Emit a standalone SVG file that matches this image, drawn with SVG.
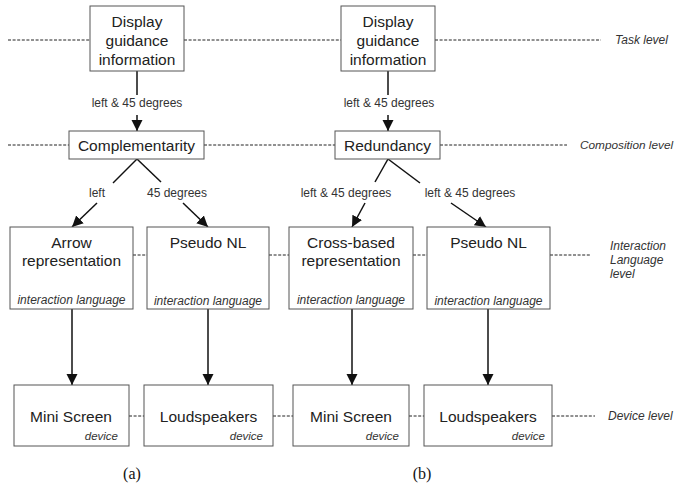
<svg xmlns="http://www.w3.org/2000/svg" width="674" height="488" viewBox="0 0 674 488">
  <style>
    .box { fill: #fff; stroke: #555; stroke-width: 1; }
    .t { font-family: "Liberation Sans", Arial, sans-serif; font-size: 15.5px; fill: #222; text-anchor: middle; }
    .lbl { font-family: "Liberation Sans", Arial, sans-serif; font-size: 12px; fill: #333; text-anchor: middle; }
    .it { font-family: "Liberation Sans", Arial, sans-serif; font-size: 12px; font-style: italic; fill: #333; text-anchor: middle; }
    .dev { font-family: "Liberation Sans", Arial, sans-serif; font-size: 11.5px; font-style: italic; fill: #333; text-anchor: end; }
    .lvl { font-family: "Liberation Sans", Arial, sans-serif; font-size: 12px; font-style: italic; fill: #333; }
    .cap { font-family: "Liberation Serif", "Times New Roman", serif; font-size: 16px; fill: #111; text-anchor: middle; }
    .dash { stroke: #222; stroke-width: 1; stroke-dasharray: 3 1.6; fill: none; }
    .edge { stroke: #111; stroke-width: 1.5; fill: none; }
  </style>
  <defs>
    <marker id="arrL" markerWidth="12" markerHeight="12" refX="11" refY="6" orient="auto" markerUnits="userSpaceOnUse" viewBox="0 0 12 12">
      <path d="M0,0.5 L11,6 L0,11.5 Z" fill="#111"/>
    </marker>
  </defs>

  <!-- level guide lines -->
  <g id="levels">
    <line class="dash" x1="8" y1="40" x2="90" y2="40"/>
    <line class="dash" x1="184" y1="40" x2="341" y2="40"/>
    <line class="dash" x1="435" y1="40" x2="601" y2="40"/>
    <text class="lvl" x="615" y="44">Task level</text>

    <line class="dash" x1="8" y1="145" x2="69" y2="145"/>
    <line class="dash" x1="204" y1="145" x2="335" y2="145"/>
    <line class="dash" x1="440" y1="145" x2="567" y2="145"/>
    <text class="lvl" x="580" y="149" style="font-size:11.8px">Composition level</text>

    <line class="dash" x1="133" y1="255" x2="147" y2="255"/>
    <line class="dash" x1="269" y1="255" x2="289" y2="255"/>
    <line class="dash" x1="413" y1="255" x2="427" y2="255"/>
    <line class="dash" x1="550" y1="255" x2="590" y2="255"/>
    <text class="lvl" x="610" y="250">Interaction</text>
    <text class="lvl" x="610" y="264">Language</text>
    <text class="lvl" x="610" y="278">level</text>

    <line class="dash" x1="129" y1="416" x2="144" y2="416"/>
    <line class="dash" x1="273" y1="416" x2="293" y2="416"/>
    <line class="dash" x1="409" y1="416" x2="424" y2="416"/>
    <line class="dash" x1="552" y1="416" x2="595" y2="416"/>
    <text class="lvl" x="608" y="420">Device level</text>
  </g>

  <!-- connectors -->
  <g id="connectors">
    <line class="edge" x1="137" y1="71" x2="137" y2="95"/>
    <line class="edge" x1="137" y1="115" x2="137" y2="131" marker-end="url(#arrL)"/>
    <text class="lbl" x="137" y="107">left &amp; 45 degrees</text>

    <line class="edge" x1="388" y1="71" x2="388" y2="95"/>
    <line class="edge" x1="388" y1="115" x2="388" y2="131" marker-end="url(#arrL)"/>
    <text class="lbl" x="389" y="107">left &amp; 45 degrees</text>

    <line class="edge" x1="137" y1="159" x2="113" y2="183"/>
    <line class="edge" x1="97" y1="203" x2="72" y2="227" marker-end="url(#arrL)"/>
    <text class="lbl" x="97" y="197">left</text>
    <line class="edge" x1="137" y1="159" x2="161" y2="182"/>
    <line class="edge" x1="183" y1="203" x2="208" y2="227" marker-end="url(#arrL)"/>
    <text class="lbl" x="177" y="197">45 degrees</text>

    <line class="edge" x1="388" y1="159" x2="375" y2="182"/>
    <line class="edge" x1="365" y1="203" x2="352" y2="227" marker-end="url(#arrL)"/>
    <text class="lbl" x="346" y="197">left &amp; 45 degrees</text>
    <line class="edge" x1="388" y1="159" x2="420" y2="183"/>
    <line class="edge" x1="451" y1="203" x2="486" y2="227" marker-end="url(#arrL)"/>
    <text class="lbl" x="470" y="197">left &amp; 45 degrees</text>

    <line class="edge" x1="72" y1="309" x2="72" y2="385" marker-end="url(#arrL)"/>
    <line class="edge" x1="208" y1="309" x2="208" y2="385" marker-end="url(#arrL)"/>
    <line class="edge" x1="352" y1="309" x2="352" y2="385" marker-end="url(#arrL)"/>
    <line class="edge" x1="488" y1="309" x2="488" y2="385" marker-end="url(#arrL)"/>
  </g>

  <!-- task level -->
  <g id="task-a">
    <rect class="box" x="90" y="6" width="94" height="65"/>
    <text class="t" x="137" y="27">Display</text>
    <text class="t" x="137" y="46">guidance</text>
    <text class="t" x="137" y="65">information</text>
  </g>
  <g id="task-b">
    <rect class="box" x="341" y="6" width="94" height="65"/>
    <text class="t" x="388" y="27">Display</text>
    <text class="t" x="388" y="46">guidance</text>
    <text class="t" x="388" y="65">information</text>
  </g>

  <!-- composition level -->
  <g id="complementarity">
    <rect class="box" x="69" y="131" width="135" height="28"/>
    <text class="t" x="136.5" y="150.5">Complementarity</text>
  </g>
  <g id="redundancy">
    <rect class="box" x="335" y="131" width="105" height="28"/>
    <text class="t" x="387.5" y="150.5">Redundancy</text>
  </g>

  <!-- interaction language level -->
  <g id="arrow-repr">
    <rect class="box" x="10" y="227" width="123" height="82"/>
    <text class="t" x="71.5" y="247.5">Arrow</text>
    <text class="t" x="71.5" y="265.5">representation</text>
    <text class="it" x="71.5" y="304">interaction language</text>
  </g>
  <g id="pseudo-nl-a">
    <rect class="box" x="147" y="227" width="122" height="82"/>
    <text class="t" x="208" y="247.5">Pseudo NL</text>
    <text class="it" x="208" y="305">interaction language</text>
  </g>
  <g id="cross-repr">
    <rect class="box" x="289" y="227" width="124" height="82"/>
    <text class="t" x="351" y="247.5">Cross-based</text>
    <text class="t" x="351" y="265.5">representation</text>
    <text class="it" x="351" y="304">interaction language</text>
  </g>
  <g id="pseudo-nl-b">
    <rect class="box" x="427" y="227" width="123" height="82"/>
    <text class="t" x="488.5" y="247.5">Pseudo NL</text>
    <text class="it" x="488.5" y="305">interaction language</text>
  </g>

  <!-- device level -->
  <g id="mini-screen-a">
    <rect class="box" x="14" y="385" width="115" height="61"/>
    <text class="t" x="71" y="421.5">Mini Screen</text>
    <text class="dev" x="118" y="440">device</text>
  </g>
  <g id="loudspeakers-a">
    <rect class="box" x="144" y="385" width="129" height="61"/>
    <text class="t" x="208.5" y="421.5">Loudspeakers</text>
    <text class="dev" x="263" y="440">device</text>
  </g>
  <g id="mini-screen-b">
    <rect class="box" x="293" y="385" width="116" height="61"/>
    <text class="t" x="351" y="421.5">Mini Screen</text>
    <text class="dev" x="399" y="440">device</text>
  </g>
  <g id="loudspeakers-b">
    <rect class="box" x="424" y="385" width="128" height="61"/>
    <text class="t" x="488" y="421.5">Loudspeakers</text>
    <text class="dev" x="545" y="440">device</text>
  </g>

  <!-- captions -->
  <text class="cap" x="132" y="479">(a)</text>
  <text class="cap" x="422" y="479">(b)</text>
</svg>
